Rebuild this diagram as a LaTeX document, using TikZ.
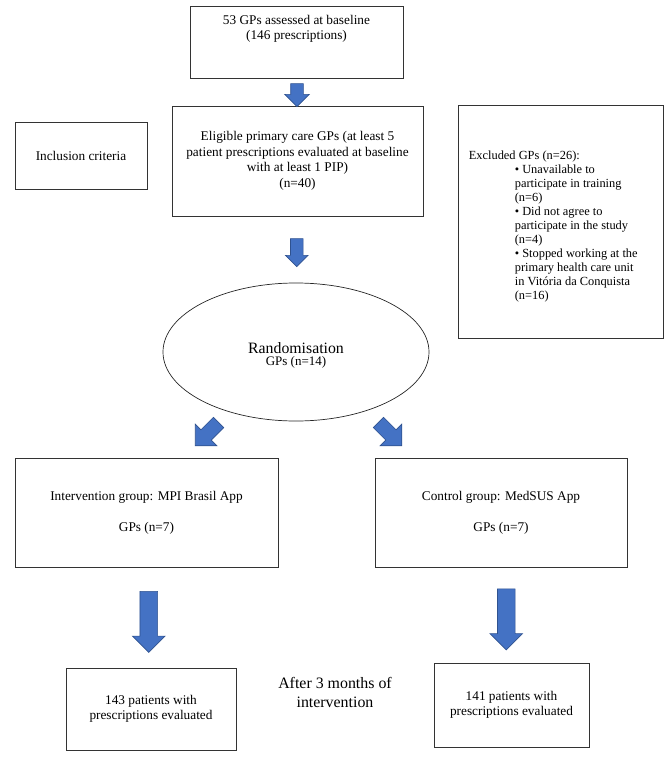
\documentclass[tikz,border=0pt]{standalone}
\usepackage{fontspec}
\setmainfont{Liberation Serif}
\usetikzlibrary{shapes.geometric,shapes.arrows,positioning,calc}
\definecolor{arrowblue}{HTML}{4472C4}
\definecolor{arrowedge}{HTML}{2F528F}

\begin{document}
\begin{tikzpicture}[x=1pt,y=-1pt,
	box/.style={draw=black!80, line width=0.75pt, align=center, inner sep=0pt, font=\fontsize{13.3}{15.5}\selectfont},
	txt/.style={align=center, inner sep=0pt, font=\fontsize{13.3}{15.5}\selectfont},
	blockarrow/.style={single arrow, draw=arrowedge, fill=arrowblue, line width=0.6pt, inner xsep=0pt, single arrow tip angle=90}]
\useasboundingbox (0,0) rectangle (669,757);

% boxes
\node[box, minimum width=213pt, minimum height=72pt] (base) at (296.5,42) {};
\node[txt, below=9pt of base.north] (baseTxt) {53 GPs assessed at baseline\\(146 prescriptions)};
\node[box, minimum width=251pt, minimum height=110pt] (elig) at (297.5,161)
	{Eligible primary care GPs (at least 5\\patient prescriptions evaluated at baseline\\with at least 1 PIP)\\(n=40)};
\node[box, minimum width=132pt, minimum height=67pt] (incl) at (81,155.5) {Inclusion criteria};
\node[box, minimum width=205pt, minimum height=233pt] (excl) at (560.5,221.5) {};
\node[txt, align=left, anchor=west, font=\fontsize{12.4}{14}\selectfont] (exclTxt) at ($(excl.west)+(11,5)$)
	{Excluded GPs (n=26):\\
	\hspace*{46pt}• Unavailable to\\
	\hspace*{46pt}participate in training\\
	\hspace*{46pt}(n=6)\\
	\hspace*{46pt}• Did not agree to\\
	\hspace*{46pt}participate in the study\\
	\hspace*{46pt}(n=4)\\
	\hspace*{46pt}• Stopped working at the\\
	\hspace*{46pt}primary health care unit\\
	\hspace*{46pt}in Vitória da Conquista\\
	\hspace*{46pt}(n=16)};
\node[ellipse, draw=black!85, line width=0.7pt, minimum width=266pt, minimum height=138pt, inner sep=0pt] (rand) at (296,352) {};
\node[txt, font=\fontsize{15.8}{17}\selectfont] (randTxt) at ($(rand.center)+(0,-4)$) {Randomisation};
\node[txt, font=\fontsize{13}{15}\selectfont, below=3pt of randTxt] (randGPs) {GPs (n=14)};
\node[box, minimum width=263pt, minimum height=109pt] (grpL) at (146.5,512.5)
	{Intervention group: MPI Brasil App\\[15.5pt]GPs (n=7)};
\node[box, minimum width=252pt, minimum height=109pt] (grpR) at (501,512.5)
	{Control group: MedSUS App\\[15.5pt]GPs (n=7)};
\node[box, minimum width=170pt, minimum height=82pt] (resL) at (151,709)
	{143 patients with\\prescriptions evaluated};
\node[box, minimum width=155pt, minimum height=84pt] (resR) at (511.5,705)
	{141 patients with\\prescriptions evaluated};
\node[txt, font=\fontsize{15.9}{19}\selectfont] (after) at (335,692) {After 3 months of\\intervention};

% block arrows
\node[blockarrow, rotate=-90, minimum height=23pt, inner ysep=6pt, single arrow head extend=6pt] (a1)
	at ($(base.south)!0.5!(elig.north)$) {};
\node[blockarrow, rotate=-90, minimum height=28pt, inner ysep=6pt, single arrow head extend=5pt] (a2)
	at ($(elig.south)!0.5!(rand.north)$) {};
\node[blockarrow, rotate=-135, minimum height=33pt, inner ysep=7pt, single arrow head extend=8pt] (dL) at (209.5,431.5) {};
\node[blockarrow, rotate=-45, minimum height=33pt, inner ysep=7pt, single arrow head extend=8pt] (dR) at (387.5,431.5) {};
\node[blockarrow, rotate=-90, minimum height=61pt, inner ysep=8.5pt, single arrow head extend=7.5pt] (vL)
	at ($(grpL.south)!0.5!(resL.north)$) {};
\node[blockarrow, rotate=-90, minimum height=61pt, inner ysep=8.5pt, single arrow head extend=7.5pt] (vR)
	at ($(grpR.south)!0.5!(resR.north)$) {};
\end{tikzpicture}
\end{document}
